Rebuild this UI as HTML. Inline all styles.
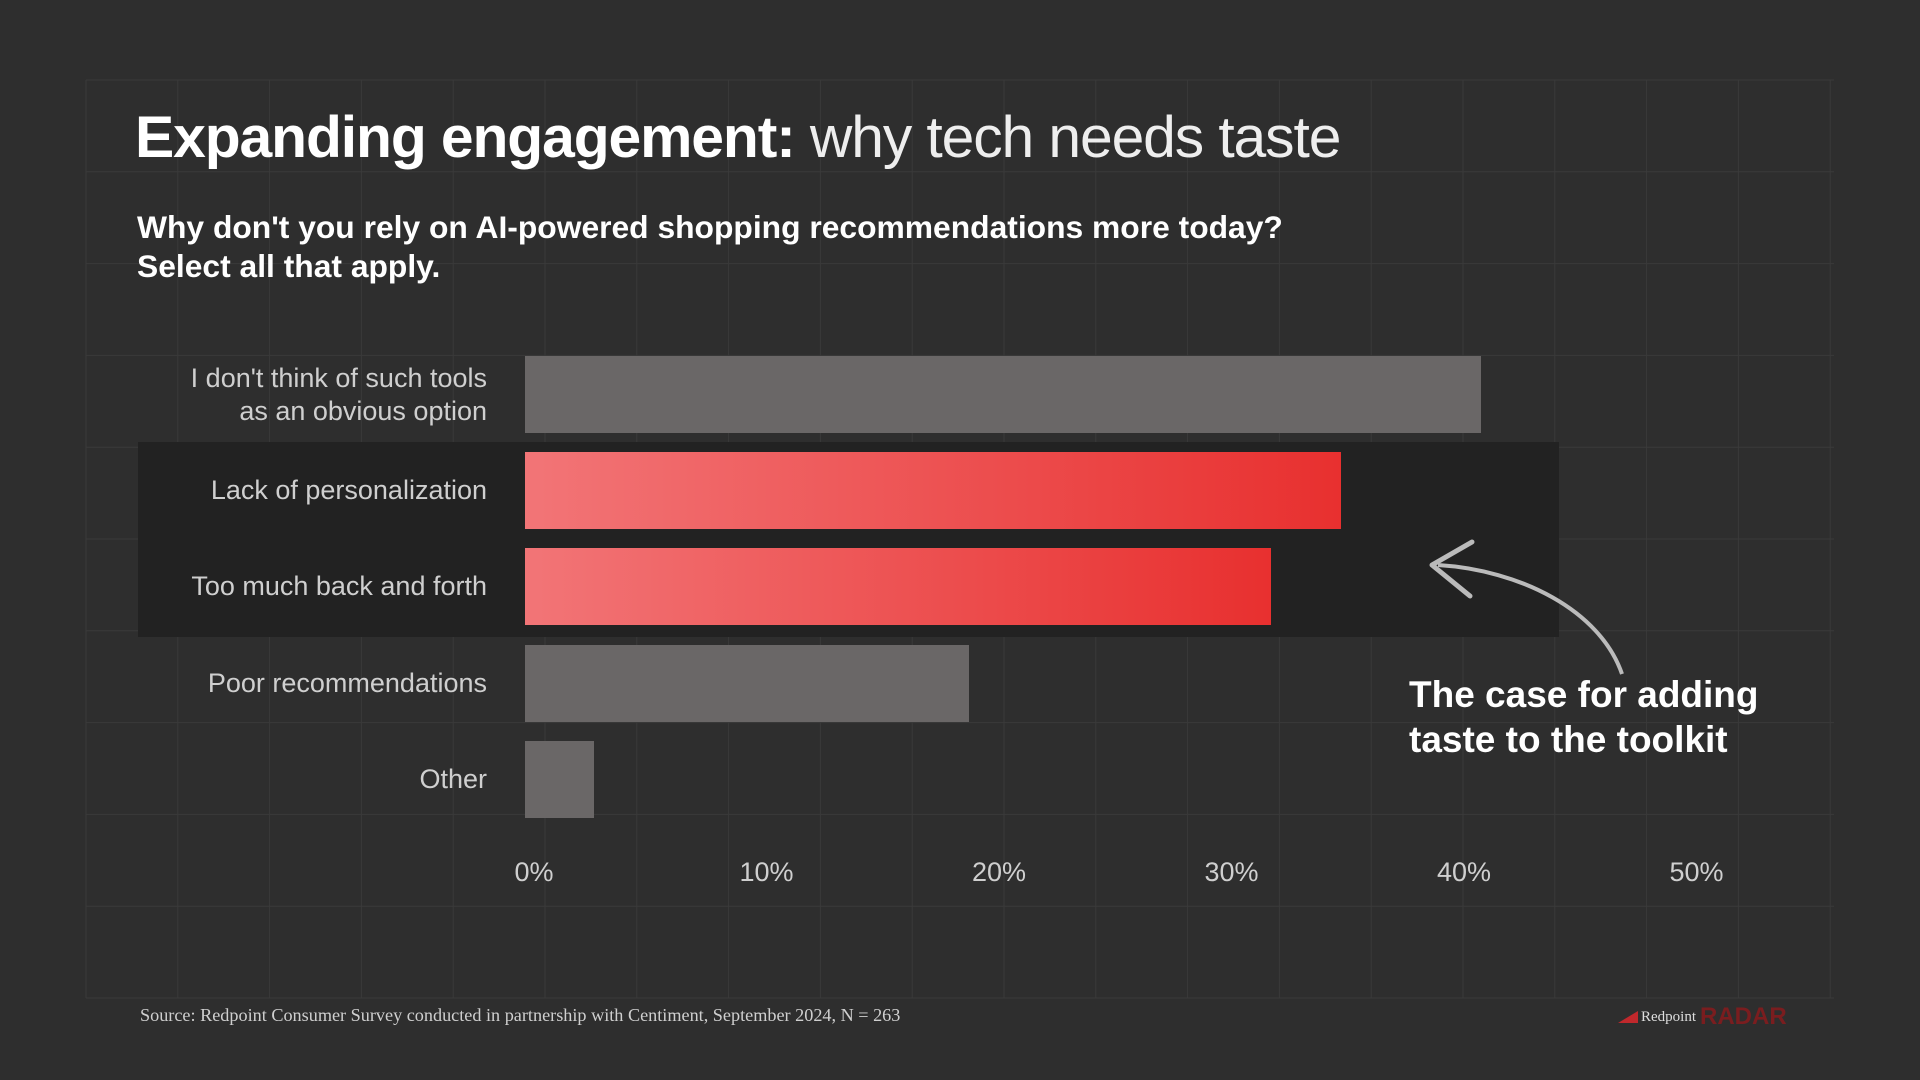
<!DOCTYPE html>
<html><head><meta charset="utf-8">
<style>
html,body{margin:0;padding:0}
body{width:1920px;height:1080px;background:#2e2e2e;position:relative;overflow:hidden;font-family:"Liberation Sans",sans-serif}
.abs{position:absolute}
#title{left:135px;top:104px;font-size:58.8px;color:#fff;white-space:nowrap;letter-spacing:-1.1px}
#title b{font-weight:700}
#title span{font-weight:300;color:#eee}
#sub{left:137px;top:208px;font-size:31.8px;font-weight:700;color:#fff;line-height:39px;white-space:nowrap}
.lbl{position:absolute;right:1433px;text-align:right;font-size:27px;color:#cfcfcf;line-height:33px}
.tick{position:absolute;font-size:27px;color:#cfcfcf;transform:translateX(-50%)}
#annot{left:1409px;top:672px;font-size:37px;font-weight:700;color:#fff;line-height:45px}
#source{left:140px;top:1005px;font-family:"Liberation Serif",serif;font-size:18.2px;color:#cfcfcf;white-space:nowrap}
</style></head><body>
<svg class="abs" style="left:0;top:0" width="1920" height="1080" id="grid"></svg>
<div class="abs" style="left:138px;top:442px;width:1421px;height:195px;background:#222"></div>
<div id="title" class="abs"><b>Expanding engagement:</b> <span>why tech needs taste</span></div>
<div id="sub" class="abs">Why don't you rely on AI-powered shopping recommendations more today?<br>Select all that apply.</div>
<div id="chart" class="abs" style="left:0;top:0;width:1920px;height:1080px"></div>
<div id="annot" class="abs">The case for adding<br>taste to the toolkit</div>
<svg class="abs" style="left:0;top:0" width="1920" height="1080">
<path d="M1622,674 C1600,610 1520,570 1438,565" fill="none" stroke="#bbb" stroke-width="4"/>
<path d="M1472,542 L1432,565 L1470,596" fill="none" stroke="#bbb" stroke-width="5" stroke-linecap="round" stroke-linejoin="round"/>
</svg>
<div id="source" class="abs">Source: Redpoint Consumer Survey conducted in partnership with Centiment, September 2024, N = 263</div>
<div class="abs" style="left:1618px;top:1003px;white-space:nowrap">
<span style="display:inline-block;width:0;height:0;border-left:20px solid transparent;border-bottom:12px solid #c0282c;vertical-align:middle"></span><span style="font-family:'Liberation Serif',serif;font-size:15px;color:#ddd;vertical-align:middle;margin-left:3px">Redpoint</span><span style="font-size:24px;font-weight:700;color:#7a1d1f;vertical-align:middle;margin-left:4px;letter-spacing:0px">RADAR</span>
</div>
<script>
const categories=["I don't think of such tools as an obvious option","Lack of personalization","Too much back and forth","Poor recommendations","Other"];
const labelLines=[["I don't think of such tools","as an obvious option"],["Lack of personalization"],["Too much back and forth"],["Poor recommendations"],["Other"]];
const values=[41.1,35.1,32.1,19.1,2.95];
const highlighted=[false,true,true,false,false];
const ticks=[0,10,20,30,40,50];
const tickLabels=["0%","10%","20%","30%","40%","50%"];
const X0=525,PX10=232.5;
function xs(v){return X0+v/10*PX10;}
const BAR_TOP=356,BAR_STEP=96.2,BAR_H=77;
function ys(i){return BAR_TOP+i*BAR_STEP;}
const chart=document.getElementById('chart');
const g=document.getElementById('grid');
let gs='';
for(let x=86;x<=1834;x+=91.8)gs+=`<line x1="${x}" y1="80" x2="${x}" y2="998" stroke="#3a3a3a" stroke-width="1"/>`;
for(let y=80;y<=999;y+=91.8)gs+=`<line x1="86" y1="${y}" x2="1834" y2="${y}" stroke="#3a3a3a" stroke-width="1"/>`;
g.innerHTML=gs;
values.forEach((v,i)=>{
  const b=document.createElement('div');
  
  
  b.style.cssText=`position:absolute;left:${X0}px;top:${ys(i)}px;width:${xs(v)-X0}px;height:${BAR_H}px;background:${highlighted[i]?'linear-gradient(90deg,#f27577,#e8302f)':'#6a6767'}`;
  chart.appendChild(b);
  const l=document.createElement('div');
  
  
  l.className='lbl';
  l.innerHTML=labelLines[i].join('<br>');
  l.style.top=(ys(i)+BAR_H/2-labelLines[i].length*33/2)+'px';
  chart.appendChild(l);
});
ticks.forEach((t,i)=>{
  const d=document.createElement('div');
  
  
  d.className='tick';
  d.textContent=tickLabels[i];
  d.style.left=(xs(t)+9)+'px';
  d.style.top='857px';
  chart.appendChild(d);
});
</script>
</body></html>
